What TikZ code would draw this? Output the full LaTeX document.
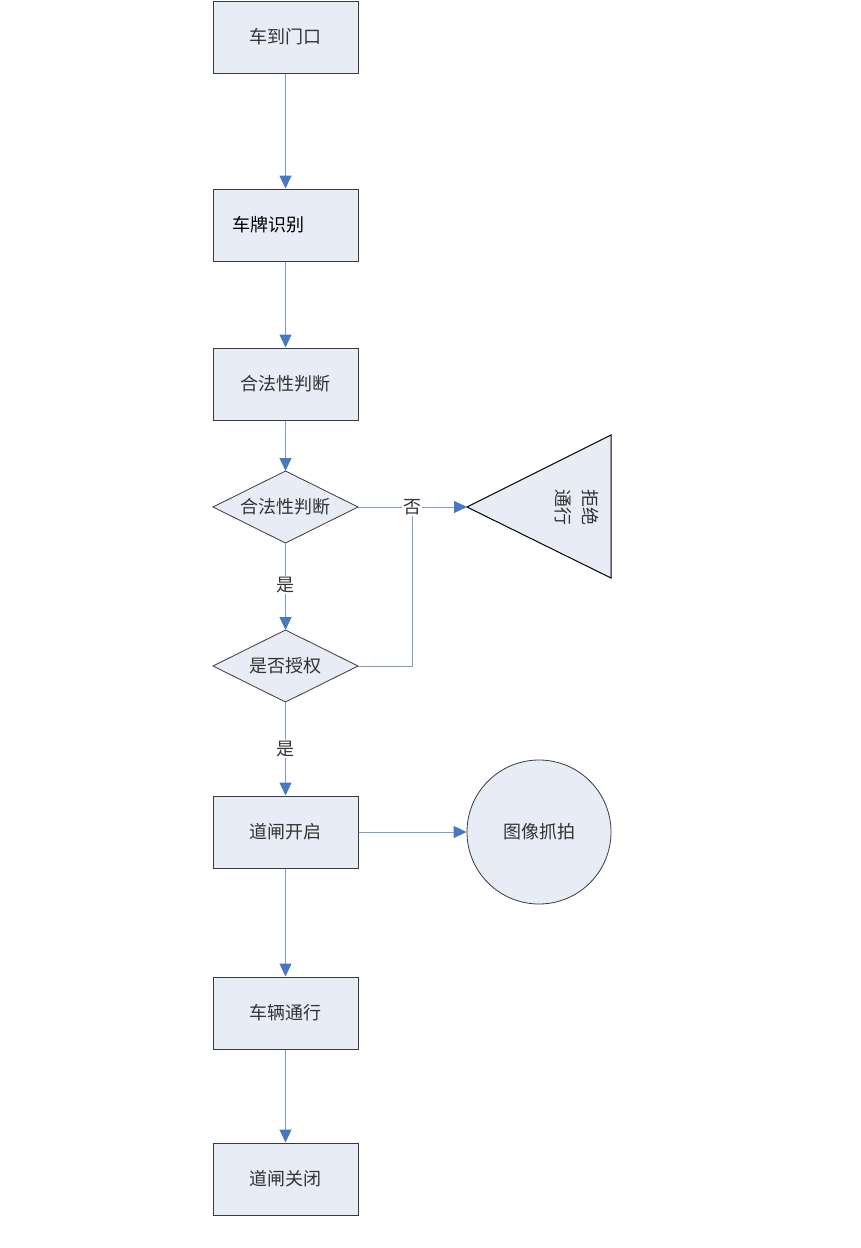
\documentclass[tikz,border=0pt]{standalone}
\usepackage{fontspec}
\newfontfamily\cjk{Noto Sans CJK SC}
\usetikzlibrary{arrows.meta,shapes.geometric}
\definecolor{boxfill}{HTML}{E7ECF6}
\definecolor{boxdraw}{HTML}{3A3A3A}
\definecolor{linec}{HTML}{7F9CC4}
\definecolor{arrowc}{HTML}{4A78C0}
\definecolor{txt}{HTML}{333333}
\tikzset{
  x=1pt,y=-1pt,
  fnt/.style={font=\cjk\fontsize{18}{20}\selectfont},
  box/.style={draw=boxdraw,fill=boxfill,line width=1pt,minimum width=145pt,minimum height=72pt,inner sep=0pt,fnt,text=txt},
  dia/.style={draw=boxdraw,fill=boxfill,line width=0.8pt},
  dtext/.style={fnt,text=txt,inner sep=0pt,minimum width=145pt,minimum height=72pt},
  flow/.style={draw=linec,line width=1pt,-{Triangle[width=12pt,length=13pt,fill=arrowc,color=arrowc]}},
  plain/.style={draw=linec,line width=1pt},
  lab/.style={fill=white,inner sep=1pt,fnt,text=txt}
}
\begin{document}
\begin{tikzpicture}
\useasboundingbox (0,0) rectangle (860,1248);
\node[box] (n1) at (285.5,37) {车到门口};
\node[box,text=black] (n2) at (285.5,225) {\hspace*{-34pt}车牌识别};
\node[box] (n3) at (285.5,384) {合法性判断};
\draw[dia] (213,507) -- (285.5,471) -- (358,507) -- (285.5,543) -- cycle;
\node[dtext] (d1) at (285.5,507) {合法性判断};
\draw[dia] (213,666) -- (285.5,630) -- (358,666) -- (285.5,702) -- cycle;
\node[dtext] (d2) at (285.5,666) {是否授权};
\draw[draw=black,fill=boxfill,line width=1pt] (467,507) -- (611,435) -- (611,578) -- cycle;
\coordinate (tri) at (467,507);
\node[rotate=-90,font=\cjk\fontsize{18}{27}\selectfont,text=txt,align=center] (tt) at (577,507) {拒绝\\通行};
\node[circle,draw=boxdraw,fill=boxfill,line width=0.8pt,minimum size=144pt,inner sep=0pt,fnt,text=txt] (c1) at (539,832) {图像抓拍};
\node[box] (n4) at (285.5,832) {道闸开启};
\node[box] (n5) at (285.5,1013) {车辆通行};
\node[box] (n6) at (285.5,1179) {道闸关闭};
\coordinate (d1t) at (285.5,471);
\coordinate (d1b) at (285.5,543);
\coordinate (d1r) at (358,507);
\coordinate (d2t) at (285.5,630);
\coordinate (d2b) at (285.5,702);
\coordinate (d2r) at (358,666);
\coordinate (j) at (412,666);
\coordinate (jt) at (412,507);
\draw[flow] (n1.south) -- (n2.north);
\draw[flow] (n2.south) -- (n3.north);
\draw[flow] (n3.south) -- (d1t);
\draw[flow] (d1b) -- node[lab,pos=0.48] (y1) {是} (d2t);
\draw[flow] (d1r) -- (tri);
\draw[plain] (d2r) -- (j) -- (jt);
\node[lab] (no) at (jt) {否};
\draw[flow] (d2b) -- node[lab,pos=0.5] (y2) {是} (n4.north);
\draw[flow] (n4.east) -- (c1.west);
\draw[flow] (n4.south) -- (n5.north);
\draw[flow] (n5.south) -- (n6.north);
\end{tikzpicture}
\end{document}
